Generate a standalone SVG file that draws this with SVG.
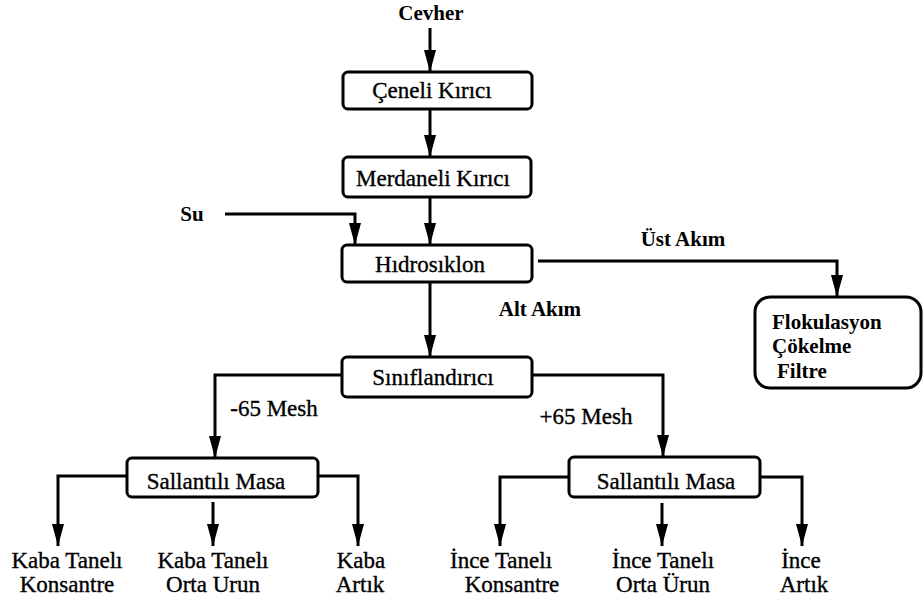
<svg xmlns="http://www.w3.org/2000/svg" width="924" height="606" viewBox="0 0 924 606">
<defs>
<marker id="arr" viewBox="0 0 22 12" refX="22" refY="6" markerWidth="22" markerHeight="12" markerUnits="userSpaceOnUse" orient="auto">
<path d="M0,0 L22,6 L0,12 Z" fill="#000"/>
</marker>
</defs>
<style>
.box{fill:#fff;stroke:#000;stroke-width:3}
.t{font-family:"Liberation Serif","Times New Roman",serif;font-size:23px;fill:#000;stroke:#000;stroke-width:0.35;text-anchor:middle}
.b{font-family:"Liberation Serif","Times New Roman",serif;font-size:21px;font-weight:bold;fill:#000}
.c{fill:none;stroke:#000;stroke-width:3}
</style>
<rect width="924" height="606" fill="#fff"/>
<g id="connectors">
<path class="c" d="M430,28 V72" marker-end="url(#arr)"/>
<path class="c" d="M430,109 V157" marker-end="url(#arr)"/>
<path class="c" d="M225,214 H355 V245" marker-end="url(#arr)"/>
<path class="c" d="M430,197 V245" marker-end="url(#arr)"/>
<path class="c" d="M538,261 H837 V297" marker-end="url(#arr)"/>
<path class="c" d="M430,282 V357" marker-end="url(#arr)"/>
<path class="c" d="M342,375 H215 V458" marker-end="url(#arr)"/>
<path class="c" d="M532,375 H663 V457" marker-end="url(#arr)"/>
<path class="c" d="M127,476 H58 V546" marker-end="url(#arr)"/>
<path class="c" d="M213,502 V546" marker-end="url(#arr)"/>
<path class="c" d="M318,476 H358 V546" marker-end="url(#arr)"/>
<path class="c" d="M569,477 H500 V546" marker-end="url(#arr)"/>
<path class="c" d="M662,503 V546" marker-end="url(#arr)"/>
<path class="c" d="M760,477 H802 V546" marker-end="url(#arr)"/>
</g>
<g id="cevher"><text class="b" x="431" y="20" text-anchor="middle">Cevher</text></g>
<g id="su"><text class="b" x="192" y="221" text-anchor="middle">Su</text></g>
<g id="ceneli"><rect class="box" x="343" y="72" width="189" height="37" rx="5"/><text class="t" x="432" y="98">Çeneli Kırıcı</text></g>
<g id="merdaneli"><rect class="box" x="343" y="157" width="188" height="40" rx="5"/><text class="t" x="433" y="186">Merdaneli Kırıcı</text></g>
<g id="hidrosiklon"><rect class="box" x="342" y="245" width="190" height="37" rx="5"/><text class="t" x="430" y="272">Hıdrosıklon</text></g>
<g id="ust-akim"><text class="b" x="683" y="246" text-anchor="middle">Üst Akım</text></g>
<g id="alt-akim"><text class="b" x="540" y="316" text-anchor="middle">Alt Akım</text></g>
<g id="flokulasyon"><rect class="box" x="755" y="297" width="166" height="91" rx="15"/>
<text class="b" x="772" y="329">Flokulasyon</text>
<text class="b" x="772" y="353">Çökelme</text>
<text class="b" x="777" y="378">Filtre</text></g>
<g id="siniflandirici"><rect class="box" x="342" y="357" width="190" height="40" rx="5"/><text class="t" x="433" y="385">Sınıflandırıcı</text></g>
<g id="minus65"><text class="t" x="274" y="416">-65 Mesh</text></g>
<g id="plus65"><text class="t" x="586" y="424">+65 Mesh</text></g>
<g id="masa-left"><rect class="box" x="127" y="458" width="191" height="39" rx="5"/><text class="t" x="216" y="489">Sallantılı Masa</text></g>
<g id="masa-right"><rect class="box" x="569" y="457" width="191" height="40" rx="5"/><text class="t" x="666" y="489">Sallantılı Masa</text></g>
<g id="kaba-kons"><text class="t" x="67" y="568">Kaba Tanelı</text><text class="t" x="67" y="592">Konsantre</text></g>
<g id="kaba-orta"><text class="t" x="213" y="568">Kaba Tanelı</text><text class="t" x="213" y="592">Orta Urun</text></g>
<g id="kaba-artik"><text class="t" x="361" y="568">Kaba</text><text class="t" x="360" y="592">Artık</text></g>
<g id="ince-kons"><text class="t" x="501" y="568">İnce Tanelı</text><text class="t" x="512" y="592">Konsantre</text></g>
<g id="ince-orta"><text class="t" x="663" y="568">İnce Tanelı</text><text class="t" x="663" y="592">Orta Ürun</text></g>
<g id="ince-artik"><text class="t" x="801" y="568">İnce</text><text class="t" x="804" y="592">Artık</text></g>
</svg>
